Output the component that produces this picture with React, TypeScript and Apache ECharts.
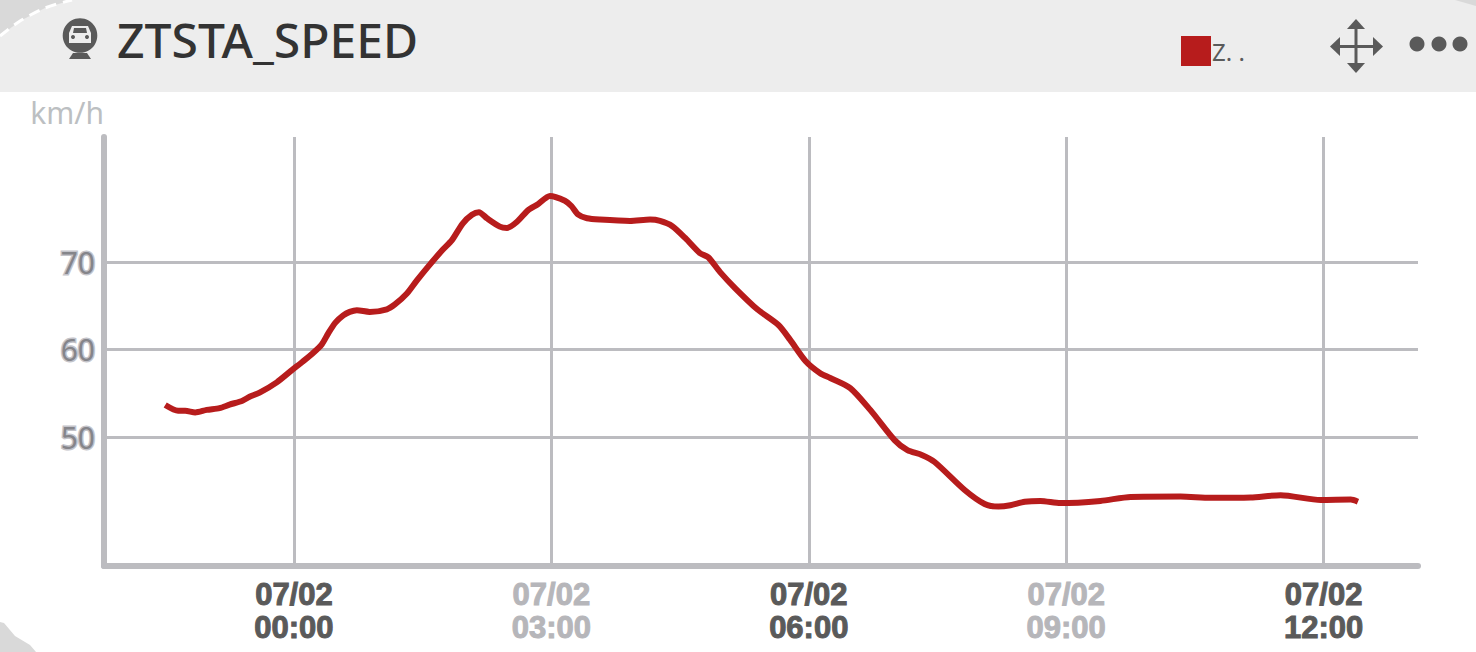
import React, { useEffect, useRef } from "react";
import * as echarts from "echarts";

const seriesName = "Z. .";
const titleText = "ZTSTA_SPEED";
const unitText = "km/h";

// minutes relative to 07/02 00:00
const minutes = [-90,-81,-76,-69,-61,-52,-45,-36,-31,-24,-12,-1,6,13,19.5,24,29,34.5,39,44,53,65,70.6,79,86,93.7,104,110.5,118,124.5,129.4,135,144,149,156,163.6,170.6,179,189.5,194,198.6,205,214,235,249,256,264.6,273.6,284,289.7,298,308.6,324,338.8,347,357.7,368,375,389,403,420,429,439,448,469,483,492.7,501,511,522,536,564,585,620,641,669,690,718,739,744];
const speeds = [53.66,53.0,53.0,52.8,53.1,53.3,53.7,54.15,54.6,55.07,56.25,57.7,58.6,59.55,60.6,61.85,63.07,63.9,64.3,64.5,64.3,64.6,65.15,66.4,67.9,69.45,71.4,72.5,74.4,75.4,75.7,75,74.05,73.9,74.6,75.9,76.6,77.55,77,76.4,75.45,75,74.85,74.7,74.85,74.7,74.1,72.75,71,70.55,68.85,67,64.6,62.8,61.1,58.7,57.3,56.75,55.6,53.1,49.65,48.5,47.95,47.15,43.95,42.35,42.05,42.2,42.6,42.7,42.45,42.7,43.15,43.2,43.05,43.1,43.35,42.8,42.85,42.6];

const xTickMinutes = [0, 180, 360, 540, 720];
const xTickDates = ["07/02", "07/02", "07/02", "07/02", "07/02"];
const xTickTimes = ["00:00", "03:00", "06:00", "09:00", "12:00"];
const yTicks = [50, 60, 70];

const GRAY = "#5a5a5a";
const FADED = "#b6b6ba";
const LINE = "#bcbcc0";
const RED = "#b71c1c";
const CORNER = "#d9d9d9";

const tickStyle = (color: string) => ({
  color,
  fontFamily: "Liberation Sans",
  fontWeight: "bold",
  fontSize: 31,
  lineHeight: 33,
  textBorderColor: color,
  textBorderWidth: 1,
});

export default function App() {
  const ref = useRef<HTMLDivElement>(null);
  useEffect(() => {
    const chart = echarts.init(ref.current!, undefined, { renderer: "svg" });
    const arrow = (points: number[][]) => ({
      type: "polygon", shape: { points }, style: { fill: GRAY },
    });
    chart.setOption({
      animation: false,
      backgroundColor: "#ffffff",
      grid: { left: 104, right: 58, top: 137, bottom: 86 },
      legend: {
        left: 1176,
        top: 31,
        icon: "rect",
        itemWidth: 30,
        itemHeight: 30,
        selectedMode: false,
        data: [seriesName],
        textStyle: { color: GRAY, fontSize: 24, fontFamily: "Noto Sans", padding: [8, 0, 0, -4] },
      },
      xAxis: {
        type: "value",
        min: -132.8,
        max: 786,
        axisLine: { show: true, onZero: false, lineStyle: { color: LINE, width: 6 } },
        axisTick: { show: false, customValues: xTickMinutes },
        splitLine: { show: true, lineStyle: { color: LINE, width: 3 } },
        axisLabel: {
          customValues: xTickMinutes,
          margin: 12,
          formatter: (v: number) => {
            const i = xTickMinutes.indexOf(v);
            const k = i % 2 === 0 ? "dark" : "light";
            return `{${k}|${xTickDates[i]}}\n{${k}|${xTickTimes[i]}}`;
          },
          rich: { dark: tickStyle(GRAY), light: tickStyle(FADED) },
        },
      },
      yAxis: {
        type: "value",
        min: 35.26,
        max: 84.29,
        name: unitText,
        nameLocation: "end",
        nameGap: 25,
        nameTextStyle: { color: "#bcbfc2", fontSize: 30, fontFamily: "Noto Sans", align: "right", verticalAlign: "middle" },
        axisLine: { show: true, onZero: false, lineStyle: { color: LINE, width: 6 } },
        axisTick: { show: false, customValues: yTicks },
        splitLine: { show: true, lineStyle: { color: LINE, width: 3 } },
        axisLabel: {
          customValues: yTicks,
          margin: 9,
          fontFamily: "Noto Sans",
          fontSize: 30,
          color: "#85858a",
          textBorderColor: "#c4c4ca",
          textBorderWidth: 3,
          padding: [0, 0, 6, 0],
        },
      },
      series: [
        {
          name: seriesName,
          type: "line",
          showSymbol: false,
          symbol: "none",
          smooth: 0.25,
          itemStyle: { color: RED },
          lineStyle: { color: RED, width: 6, join: "round" },
          data: minutes.map((m, i) => [m, speeds[i]]),
          z: 5,
        },
      ],
      graphic: [
        { type: "rect", z: -10, shape: { x: 0, y: 0, width: 1476, height: 92 }, style: { fill: "#ededed" } },
        { type: "polygon", z: -9, shape: { points: [[0, 0], [72, 0], [45, 8], [20, 21], [0, 36]] }, style: { fill: CORNER } },
        { type: "polyline", z: -8, shape: { points: [[0, 36], [20, 21], [45, 8], [72, 0]], smooth: 0.3 }, style: { stroke: "#ffffff", lineWidth: 3, lineDash: [11, 7], fill: "none" } },
        { type: "polygon", z: -9, shape: { points: [[1455, 0], [1476, 0], [1476, 6]] }, style: { fill: CORNER } },
        { type: "polygon", z: -9, shape: { points: [[0, 622], [4, 623], [15, 636], [30, 645], [36, 652], [0, 652]] }, style: { fill: CORNER } },
        // train icon
        { type: "circle", shape: { cx: 80, cy: 35.5, r: 17.3 }, style: { fill: GRAY } },
        { type: "polygon", shape: { points: [[73, 53], [87, 53], [91, 59], [69, 59]] }, style: { fill: GRAY } },
        { type: "polygon", shape: { points: [[72, 26], [88, 26], [91, 33], [91, 43], [69, 43], [69, 33]] }, style: { fill: "#ededed" } },
        { type: "polygon", shape: { points: [[74, 28], [86, 28], [87, 33], [73, 33]] }, style: { fill: GRAY } },
        { type: "circle", shape: { cx: 73, cy: 37, r: 2 }, style: { fill: GRAY } },
        { type: "circle", shape: { cx: 87, cy: 37, r: 2 }, style: { fill: GRAY } },
        { type: "rect", shape: { x: 73, y: 43, width: 14, height: 7 }, style: { fill: GRAY } },
        // title
        { type: "text", x: 117, y: 39, style: { text: titleText, fill: "#333333", font: "500 48px 'Noto Sans'", textVerticalAlign: "middle" } },
        // move icon
        { type: "rect", shape: { x: 1354.5, y: 26, width: 3, height: 40 }, style: { fill: GRAY } },
        { type: "rect", shape: { x: 1336, y: 45, width: 40, height: 3 }, style: { fill: GRAY } },
        arrow([[1356, 19], [1365, 29], [1347, 29]]),
        arrow([[1356, 73], [1365, 63], [1347, 63]]),
        arrow([[1330, 46.5], [1340, 37], [1340, 56]]),
        arrow([[1383, 46.5], [1373, 37], [1373, 56]]),
        // menu dots
        { type: "circle", shape: { cx: 1417, cy: 44, r: 7.5 }, style: { fill: GRAY } },
        { type: "circle", shape: { cx: 1439, cy: 44, r: 7.5 }, style: { fill: GRAY } },
        { type: "circle", shape: { cx: 1460, cy: 44, r: 7.5 }, style: { fill: GRAY } },
      ],
    });
    return () => chart.dispose();
  }, []);
  return <div ref={ref} style={{ position: "absolute", left: 0, top: 0, width: 1476, height: 652 }} />;
}
